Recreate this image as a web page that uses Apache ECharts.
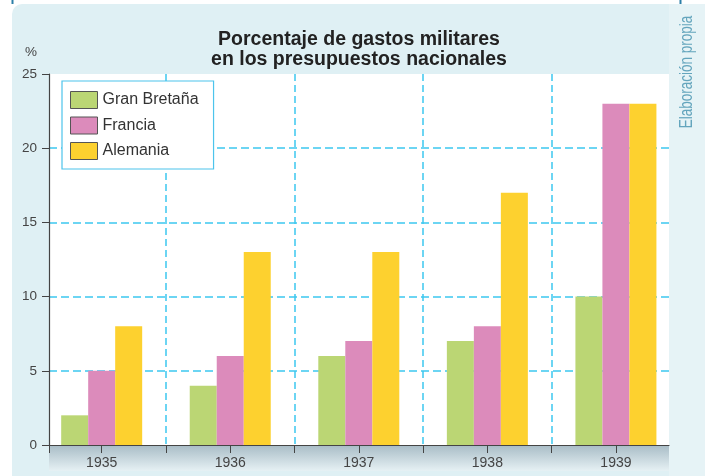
<!DOCTYPE html>
<html>
<head>
<meta charset="utf-8">
<script src="https://cdn.jsdelivr.net/npm/echarts@6/dist/echarts.min.js"></script>
<style>
  html, body { margin: 0; padding: 0; background: #fff; }
  #chart { width: 708px; height: 476px; }
</style>
</head>
<body>
<div id="chart"></div>
<script>
const years = ['1935', '1936', '1937', '1938', '1939']
const granBretana = [2, 4, 6, 7, 10]
const francia = [5, 6, 7, 8, 23]
const alemania = [8, 13, 13, 17, 23]
const seriesNames = ['Gran Bretaña', 'Francia', 'Alemania']
const seriesColors = ['#bbd674', '#dc8bbb', '#fdd12f']

// the bar bands run a bit wider than the white plot box
const bandLeft = 37.4
const bandRight = 680.2
const plotLeft = 49
const plotRight = 669
const unit = (bandRight - bandLeft) / years.length
const uMin = (plotLeft - bandLeft) / unit
const uMax = (plotRight - bandLeft) / unit
const tickValues = [uMin]
years.forEach((y, i) => {
  tickValues.push(i + 0.5)
  if (i > 0) tickValues.push(i)
})

const font = '"Liberation Sans", Arial, sans-serif'
const gridColor = '#3cc8f0'
const axisColor = '#444'

const chart = echarts.init(document.getElementById('chart'))

function barSeries(name, data, color) {
  return {
    name,
    type: 'bar',
    xAxisIndex: 0,
    yAxisIndex: 0,
    data,
    barWidth: 27,
    barGap: '0%',
    itemStyle: { color },
  }
}

const option = {
  animation: false,
  textStyle: { fontFamily: font },
  title: {
    text: 'Porcentaje de gastos militares\nen los presupuestos nacionales',
    left: 359,
    top: 30,
    padding: 0,
    textAlign: 'center',
    textStyle: { fontSize: 19.5, fontWeight: 'bold', color: '#222', lineHeight: 20, fontFamily: font },
  },
  legend: {
    orient: 'vertical',
    left: 62,
    top: 81,
    padding: [10, 15, 9, 8],
    itemWidth: 27,
    itemHeight: 17,
    itemGap: 7.5,
    backgroundColor: '#fff',
    borderColor: '#4cc4ec',
    borderWidth: 1.2,
    icon: 'rect',
    itemStyle: { borderColor: '#555', borderWidth: 1 },
    textStyle: { fontSize: 16, color: '#333', fontFamily: font },
    data: seriesNames,
  },
  graphic: [
    {
      type: 'rect', z: -10,
      shape: { x: 12, y: 4, width: 657, height: 472, r: [10, 0, 0, 0] },
      style: { fill: '#dff0f4' },
    },
    {
      type: 'rect', z: -10,
      shape: { x: 669, y: 4, width: 36, height: 472 },
      style: { fill: '#e6f3f6' },
    },
    {
      type: 'line', z: -9,
      shape: { x1: 12.5, y1: 0, x2: 12.5, y2: 4 },
      style: { stroke: '#2c7fa8', lineWidth: 2 },
    },
    {
      type: 'line', z: -9,
      shape: { x1: 680.5, y1: 0, x2: 680.5, y2: 4 },
      style: { stroke: '#2c7fa8', lineWidth: 2 },
    },
    {
      type: 'rect', z: -5,
      shape: { x: plotLeft, y: 445, width: plotRight - plotLeft, height: 26 },
      style: {
        fill: new echarts.graphic.LinearGradient(0, 0, 0, 1, [
          { offset: 0, color: '#a8bcc6' },
          { offset: 1, color: '#e6f1f4' },
        ]),
      },
    },
    {
      // narrow credit line, squeezed along its length
      type: 'text', z: -4,
      x: 687.5, y: 72,
      rotation: Math.PI / 2,
      scaleX: 0.75,
      style: {
        text: 'Elaboración propia',
        fill: '#64a5bd',
        fontSize: 18,
        fontFamily: font,
        align: 'center',
        verticalAlign: 'middle',
      },
    },
  ],
  grid: [
    { left: bandLeft, right: 708 - bandRight, top: 74, bottom: 31 },
    { left: plotLeft, right: 708 - plotRight, top: 74, bottom: 31, show: true, backgroundColor: '#fff', borderWidth: 0 },
  ],
  xAxis: [
    {
      type: 'category',
      gridIndex: 0,
      data: years,
      axisLine: { show: false },
      axisTick: { show: false },
      axisLabel: { color: axisColor, fontSize: 14, margin: 11.5 },
      splitLine: {
        show: true,
        showMinLine: false,
        showMaxLine: false,
        lineStyle: { color: gridColor, type: [7, 4], width: 1.5 },
      },
    },
    {
      type: 'value',
      gridIndex: 1,
      min: uMin,
      max: uMax,
      axisLine: { show: true, onZero: false, lineStyle: { color: axisColor, width: 1.2 } },
      axisTick: { show: true, length: 8, customValues: tickValues, lineStyle: { color: axisColor } },
      axisLabel: { show: false },
      splitLine: { show: false },
    },
  ],
  yAxis: [
    { type: 'value', gridIndex: 0, min: 0, max: 25, show: false, splitLine: { show: false } },
    {
      type: 'value',
      gridIndex: 1,
      min: 0,
      max: 25,
      interval: 5,
      name: '%',
      nameLocation: 'end',
      nameGap: 15,
      nameTextStyle: { color: axisColor, fontSize: 13.5, align: 'right', padding: [0, 12, 0, 0] },
      axisLine: { show: true, onZero: false, lineStyle: { color: axisColor, width: 1.2 } },
      axisTick: { show: true, length: 7, lineStyle: { color: axisColor } },
      axisLabel: { color: axisColor, fontSize: 13.5, margin: 12 },
      splitLine: {
        show: true,
        showMinLine: false,
        showMaxLine: false,
        lineStyle: { color: gridColor, type: [8, 4], width: 1.5 },
      },
    },
  ],
  series: [
    barSeries(seriesNames[0], granBretana, seriesColors[0]),
    barSeries(seriesNames[1], francia, seriesColors[1]),
    barSeries(seriesNames[2], alemania, seriesColors[2]),
  ],
}

chart.setOption(option)
</script>
</body>
</html>
